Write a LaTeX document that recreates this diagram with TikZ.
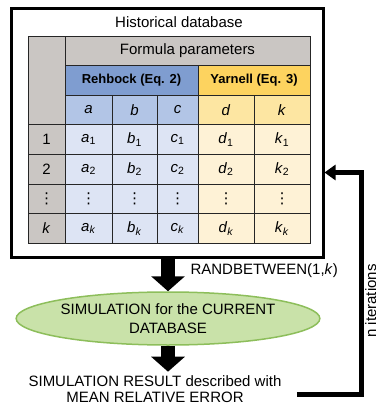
\documentclass[tikz,border=0pt]{standalone}
\usepackage{fontspec}
\setmainfont{Liberation Sans}
\newfontfamily\symfont{DejaVu Sans}
\usetikzlibrary{arrows.meta,shapes.geometric}

\definecolor{dbgrey}{HTML}{CAC6C3}
\definecolor{rehdark}{HTML}{7F9DD0}
\definecolor{rehmid}{HTML}{B2C5E6}
\definecolor{rehlight}{HTML}{DDE4F4}
\definecolor{yardark}{HTML}{FDD35F}
\definecolor{yarmid}{HTML}{FDE6A2}
\definecolor{yarlight}{HTML}{FEF2D6}
\definecolor{simfill}{HTML}{C9E2A9}
\definecolor{simedge}{HTML}{8DBE5B}

\newcommand{\pv}[2]{\textit{#1}\textsubscript{#2}}
\newcommand{\vdts}{{\symfont ⋮}}

\tikzset{
  cell/.style={draw=black!85,line width=0.9pt,inner sep=0pt,minimum height=29.6pt},
  idx/.style={cell,fill=dbgrey,minimum width=37pt},
  colA/.style={cell,minimum width=47pt},
  colB/.style={cell,minimum width=45pt},
  colC/.style={cell,minimum width=41pt},
  colD/.style={cell,minimum width=56pt},
  colK/.style={cell,minimum width=56pt},
  bigarrow/.style={line width=14pt,-{Triangle[width=33pt,length=15pt]}},
  loopline/.style={line width=5pt,-{Triangle[width=15pt,length=11pt]}}
}

\begin{document}
\begin{tikzpicture}[x=1pt,y=-1pt,font=\fontsize{15}{18}\selectfont]
  \useasboundingbox (0,0) rectangle (375,411);

  \node[draw,line width=3pt,minimum width=312pt,minimum height=248pt] (db) at (167,133) {};
  \node (dbtitle) at (179,22) {Historical database};

  % table heads
  \node[cell,fill=dbgrey,minimum width=37pt,minimum height=88.8pt] (corner) at (46.5,80.4) {};
  \node[cell,fill=dbgrey,minimum width=245pt] (formula) at (187.5,50.8) {Formula parameters};
  \node[cell,fill=rehdark,minimum width=133pt,font=\bfseries\fontsize{13}{15}\selectfont] (rehbock) at (131.5,80.4) {Rehbock (Eq. 2)};
  \node[cell,fill=yardark,minimum width=112pt,font=\bfseries\fontsize{13}{15}\selectfont] (yarnell) at (254,80.4) {Yarnell (Eq. 3)};

  \node[colA,fill=rehmid] (ha) at (88.5,110) {\textit{a}};
  \node[colB,fill=rehmid] (hb) at (134.5,110) {\textit{b}};
  \node[colC,fill=rehmid] (hc) at (177.5,110) {\textit{c}};
  \node[colD,fill=yarmid] (hd) at (226,110) {\textit{d}};
  \node[colK,fill=yarmid] (hk) at (282,110) {\textit{k}};

  % rows
  \node[idx] (r1) at (46.5,139.6) {1};
  \node[colA,fill=rehlight] (a1) at (88.5,139.6) {\pv{a}{1}};
  \node[colB,fill=rehlight] (b1) at (134.5,139.6) {\pv{b}{1}};
  \node[colC,fill=rehlight] (c1) at (177.5,139.6) {\pv{c}{1}};
  \node[colD,fill=yarlight] (d1) at (226,139.6) {\pv{d}{1}};
  \node[colK,fill=yarlight] (k1) at (282,139.6) {\pv{k}{1}};

  \node[idx] (r2) at (46.5,169.2) {2};
  \node[colA,fill=rehlight] (a2) at (88.5,169.2) {\pv{a}{2}};
  \node[colB,fill=rehlight] (b2) at (134.5,169.2) {\pv{b}{2}};
  \node[colC,fill=rehlight] (c2) at (177.5,169.2) {\pv{c}{2}};
  \node[colD,fill=yarlight] (d2) at (226,169.2) {\pv{d}{2}};
  \node[colK,fill=yarlight] (k2) at (282,169.2) {\pv{k}{2}};

  \node[idx] (rdots) at (46.5,198.8) {\vdts};
  \node[colA,fill=rehlight] (adots) at (88.5,198.8) {\vdts};
  \node[colB,fill=rehlight] (bdots) at (134.5,198.8) {\vdts};
  \node[colC,fill=rehlight] (cdots) at (177.5,198.8) {\vdts};
  \node[colD,fill=yarlight] (ddots) at (226,198.8) {\vdts};
  \node[colK,fill=yarlight] (kdots) at (282,198.8) {\vdts};

  \node[idx] (rk) at (46.5,228.4) {\textit{k}};
  \node[colA,fill=rehlight] (ak) at (88.5,228.4) {\pv{a}{\textit{k}}};
  \node[colB,fill=rehlight] (bk) at (134.5,228.4) {\pv{b}{\textit{k}}};
  \node[colC,fill=rehlight] (ck) at (177.5,228.4) {\pv{c}{\textit{k}}};
  \node[colD,fill=yarlight] (dk) at (226,228.4) {\pv{d}{\textit{k}}};
  \node[colK,fill=yarlight] (kk) at (282,228.4) {\pv{k}{\textit{k}}};

  % flow below
  \node[ellipse,draw=simedge,fill=simfill,line width=1.5pt,inner sep=0pt,minimum width=255pt,minimum height=53pt,align=center,font=\fontsize{15}{19}\selectfont] (sim) at (168,318.5) {SIMULATION for the CURRENT\\DATABASE};
  \node[anchor=west] (rand) at (187,271) {RANDBETWEEN(1,\textit{k})};
  \node[align=center,font=\fontsize{15}{16.5}\selectfont] (result) at (155,389) {SIMULATION RESULT described with\\MEAN RELATIVE ERROR};
  \coordinate (turn) at (361.5,172.5);
  \node[rotate=90,anchor=north,inner sep=0pt] (iter) at (365,301) {n iterations};

  \draw[bigarrow] (db.south -| sim.north) -- (sim.north);
  \draw[bigarrow] (sim.south) -- (sim.south |- result.north);
  \draw[loopline] ([xshift=12pt,yshift=-5pt]result.east) -| (turn) -- (turn -| db.east);
\end{tikzpicture}
\end{document}
